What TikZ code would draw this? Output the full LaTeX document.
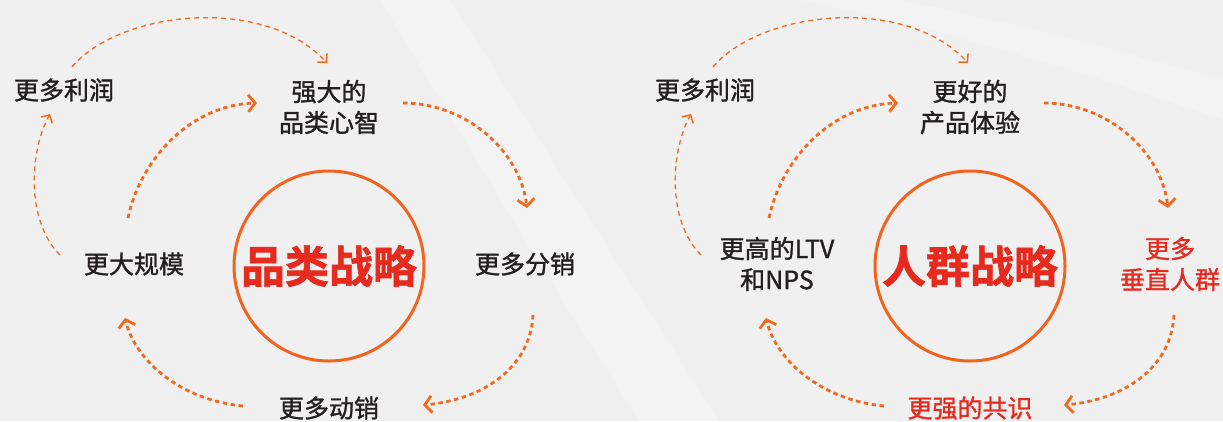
\documentclass[tikz,border=0pt]{standalone}
\usepackage{fontspec}
\setmainfont{Noto Sans CJK SC}
\newfontfamily\lblfont[FakeBold=1.2]{Noto Sans CJK SC}
\newfontfamily\ttlfont[FakeBold=1.5]{Noto Sans CJK SC Bold}
\usetikzlibrary{arrows.meta}
\definecolor{bg}{HTML}{F0F0F0}
\definecolor{org}{HTML}{F26A1F}
\definecolor{ringc}{HTML}{F2641E}
\definecolor{tred}{HTML}{E62A1E}
\definecolor{txt}{HTML}{231F20}
\begin{document}
\begin{tikzpicture}[x=1pt,y=-1pt,
  lbl/.style={font=\lblfont\fontsize{25}{31}\selectfont, text=txt, align=center, inner sep=0pt},
  rlbl/.style={lbl, text=tred},
  title/.style={font=\ttlfont\fontsize{44}{50}\selectfont, text=tred, inner sep=0pt},
  ringnode/.style={circle, draw=ringc, line width=3pt, minimum size=190pt, inner sep=0pt},
  thinarr/.style={draw=org, line width=1.3pt, dash pattern=on 5pt off 4pt,
    -{Straight Barb[length=6pt,width=13pt,line width=1.5pt]}},
  thickarr/.style={draw=org, line width=2.8pt, dash pattern=on 4.5pt off 3.5pt,
    -{Straight Barb[length=7pt,width=17pt,line width=2.8pt]}},
]
\fill[bg] (0,0) rectangle (1223,421);
\useasboundingbox (0,0) rectangle (1223,421);
% faint background sweeps
\fill[white, opacity=0.2] (380,0) .. controls (470,150) and (560,300) .. (640,421) -- (720,421) .. controls (640,300) and (540,140) .. (450,0) -- cycle;
\fill[white, opacity=0.2] (1223,120) .. controls (1050,60) and (900,20) .. (800,0) -- (900,0) .. controls (1000,20) and (1120,50) .. (1223,80) -- cycle;

% ---------- left cycle ----------
\node[ringnode] (Lring) at (329,266) {};
\node[title] (Ltitle) at (329,266) {品类战略};
\node[lbl] (Lprofit) at (64,90) {更多利润};
\node[lbl] (Lmind) at (329,107) {强大的\\品类心智};
\node[lbl] (Ldist) at (525,264) {更多分销};
\node[lbl] (Lsell) at (329,408) {更多动销};
\node[lbl] (Lscale) at (134,264) {更大规模};

\coordinate (Lo1s) at (72,67);  \coordinate (Lo1e) at (327,63);
\coordinate (Lo2s) at (60,255); \coordinate (Lo2e) at (50,114);
\coordinate (La1s) at (128,218); \coordinate (La1e) at (257,103);
\coordinate (La2s) at (403,103); \coordinate (La2e) at (527,208);
\coordinate (La3s) at (533,315); \coordinate (La3e) at (423,405);
\coordinate (La4s) at (243,406); \coordinate (La4e) at (125,318);

\draw[thinarr] (Lo1s) .. controls (120,10) and (265,-5) .. (Lo1e);
\draw[thinarr] (Lo2s) .. controls (25,220) and (30,150) .. (Lo2e);
\draw[thickarr] (La1s) .. controls (140,160) and (190,105) .. (La1e);
\draw[thickarr] (La2s) .. controls (465,103) and (520,150) .. (La2e);
\draw[thickarr] (La3s) .. controls (530,370) and (480,400) .. (La3e);
\draw[thickarr] (La4s) .. controls (180,400) and (135,360) .. (La4e);

% ---------- right cycle ----------
\node[ringnode] (Rring) at (970,266) {};
\node[title] (Rtitle) at (970,266) {人群战略};
\node[lbl] (Rprofit) at (705,90) {更多利润};
\node[lbl] (Rexp) at (970,107) {更好的\\产品体验};
\node[lbl] (Rltv) at (777,264) {更高的LTV\\和NPS};
\node[rlbl] (Rvert) at (1170,264) {更多\\垂直人群};
\node[rlbl] (Rcons) at (970,408) {更强的共识};

\coordinate (Ro1s) at (713,67);  \coordinate (Ro1e) at (968,63);
\coordinate (Ro2s) at (701,255); \coordinate (Ro2e) at (691,114);
\coordinate (Ra1s) at (769,218); \coordinate (Ra1e) at (898,103);
\coordinate (Ra2s) at (1044,103); \coordinate (Ra2e) at (1168,208);
\coordinate (Ra3s) at (1174,315); \coordinate (Ra3e) at (1064,405);
\coordinate (Ra4s) at (884,406); \coordinate (Ra4e) at (766,318);

\draw[thinarr] (Ro1s) .. controls (761,10) and (906,-5) .. (Ro1e);
\draw[thinarr] (Ro2s) .. controls (666,220) and (671,150) .. (Ro2e);
\draw[thickarr] (Ra1s) .. controls (781,160) and (831,105) .. (Ra1e);
\draw[thickarr] (Ra2s) .. controls (1106,103) and (1161,150) .. (Ra2e);
\draw[thickarr] (Ra3s) .. controls (1171,370) and (1121,400) .. (Ra3e);
\draw[thickarr] (Ra4s) .. controls (821,400) and (776,360) .. (Ra4e);
\end{tikzpicture}
\end{document}
